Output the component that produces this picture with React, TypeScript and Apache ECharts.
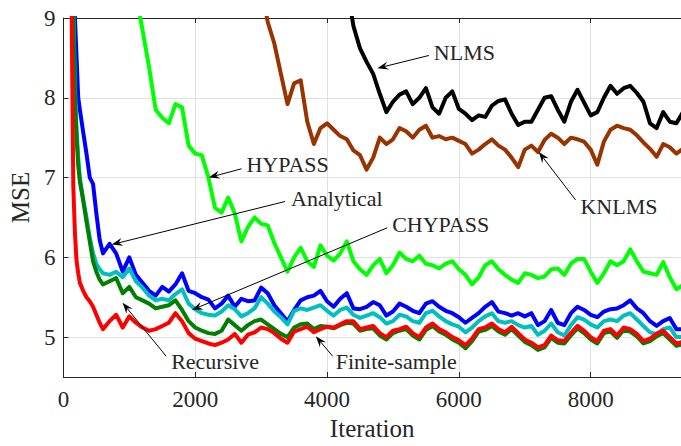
import { useEffect, useRef } from 'react';
import * as echarts from 'echarts';

const ITER = [
  100, 125, 150, 175, 200, 225, 250, 300, 350, 400, 450, 500, 550, 600,
  700, 800, 900, 1000, 1100, 1200, 1300, 1400, 1500, 1600,
  1700, 1800, 1900, 2000, 2100, 2200, 2300, 2400, 2500, 2600,
  2700, 2800, 2900, 3000, 3100, 3200, 3300, 3400, 3500, 3600,
  3700, 3800, 3900, 4000, 4100, 4200, 4300, 4400, 4500, 4600,
  4700, 4800, 4900, 5000, 5100, 5200, 5300, 5400, 5500, 5600,
  5700, 5800, 5900, 6000, 6100, 6200, 6300, 6400, 6500, 6600,
  6700, 6800, 6900, 7000, 7100, 7200, 7300, 7400, 7500, 7600,
  7700, 7800, 7900, 8000, 8100, 8200, 8300, 8400, 8500, 8600,
  8700, 8800, 8900, 9000, 9100, 9200, 9300, 9400,
];

const NLMS = [
  null, null, null, null, null, null, null, null, null, null, null, null, null, null,
  null, null, null, null, null, null, null, null, null, null,
  null, null, null, null, null, null, null, null, null, null,
  null, null, null, null, null, null, null, null, null, null,
  null, null, null, null, null, null, 9.4, 8.9, 8.62, 8.45,
  8.3, 8.05, 7.82, 7.95, 8.04, 8.08, 7.92, 8.0, 8.12, 7.88,
  7.8, 8.0, 8.08, 7.86, 7.8, 7.72, 7.78, 7.76, 7.9, 7.96,
  7.98, 7.8, 7.66, 7.7, 7.7, 7.85, 8.0, 8.02, 7.85, 7.7,
  7.95, 8.1, 7.94, 7.78, 7.82, 8.0, 8.15, 8.05, 8.12, 8.15,
  8.06, 7.95, 7.68, 7.62, 7.82, 7.7, 7.68, 7.82,
];

const KNLMS = [
  null, null, null, null, null, null, null, null, null, null, null, null, null, null,
  null, null, null, null, null, null, null, null, null, null,
  null, null, null, null, null, null, null, null, null, null,
  null, null, null, 9.4, 8.95, 8.68, 8.3, 7.92, 8.18, 8.22,
  7.7, 7.42, 7.62, 7.68, 7.6, 7.52, 7.48, 7.34, 7.28, 7.1,
  7.25, 7.5, 7.42, 7.48, 7.62, 7.58, 7.5, 7.6, 7.65, 7.5,
  7.52, 7.48, 7.5, 7.46, 7.42, 7.3, 7.35, 7.42, 7.48, 7.4,
  7.35, 7.25, 7.13, 7.35, 7.4, 7.32, 7.47, 7.55, 7.5, 7.42,
  7.5, 7.48, 7.45, 7.35, 7.16, 7.45, 7.6, 7.65, 7.62, 7.6,
  7.53, 7.44, 7.36, 7.26, 7.42, 7.38, 7.3, 7.36,
];

const HYPASS = [
  null, null, null, null, null, null, null, null, null, null, null, null, null, null,
  null, null, null, null, 9.3, 8.85, 8.38, 7.85, 7.75, 7.68,
  7.92, 7.88, 7.4, 7.3, 7.28, 7.0, 6.62, 6.56, 6.75, 6.55,
  6.2, 6.38, 6.5, 6.42, 6.4, 6.18, 6.0, 5.82, 6.0, 6.12,
  5.95, 5.88, 6.15, 6.02, 5.96, 6.05, 6.2, 5.95, 5.85, 5.78,
  5.9, 5.98, 5.8, 5.9, 6.06, 5.98, 5.95, 6.02, 5.92, 5.9,
  5.86, 5.92, 5.95, 5.85, 5.78, 5.66, 5.75, 5.9, 5.95, 5.85,
  5.78, 5.72, 5.68, 5.8, 5.78, 5.74, 5.76, 5.85, 5.86, 5.78,
  5.92, 5.98, 5.98, 5.82, 5.68, 5.8, 5.95, 5.9, 5.95, 6.1,
  5.95, 5.82, 5.8, 5.78, 5.94, 5.75, 5.6, 5.65,
];

const ANALYTICAL = [
  13, 11.5, 10, 9.0, 8.5, 8.0, 7.85, 7.57, 7.3, 7.0, 6.92, 6.55, 6.22, 6.05,
  6.17, 6.05, 5.82, 6.0, 5.78, 5.68, 5.58, 5.52, 5.63, 5.57,
  5.66, 5.8, 5.58, 5.55, 5.5, 5.47, 5.36, 5.42, 5.52, 5.38,
  5.48, 5.45, 5.46, 5.62, 5.55, 5.4, 5.3, 5.2, 5.34, 5.46,
  5.5, 5.52, 5.58, 5.45, 5.38, 5.48, 5.55, 5.36, 5.35, 5.38,
  5.44, 5.4, 5.27, 5.32, 5.42, 5.38, 5.33, 5.3, 5.42, 5.45,
  5.38, 5.33, 5.3, 5.25, 5.18, 5.24, 5.3, 5.38, 5.44, 5.32,
  5.3, 5.27, 5.3, 5.26, 5.3, 5.15, 5.2, 5.34, 5.18, 5.15,
  5.3, 5.38, 5.34, 5.28, 5.25, 5.32, 5.35, 5.36, 5.4, 5.46,
  5.36, 5.3, 5.2, 5.14, 5.2, 5.24, 5.1, 5.1,
];

const CHYPASS = [
  12, 10.8, 9.2, 8.1, 7.6, 7.25, 7.0, 6.72, 6.5, 6.25, 6.05, 5.92, 5.85, 5.8,
  5.78, 5.82, 5.75, 5.86, 5.7, 5.62, 5.52, 5.46, 5.48, 5.46,
  5.54, 5.6, 5.42, 5.35, 5.3, 5.28, 5.27, 5.32, 5.4, 5.35,
  5.26, 5.3, 5.36, 5.5, 5.42, 5.32, 5.25, 5.16, 5.33, 5.36,
  5.34, 5.37, 5.4, 5.33, 5.27, 5.34, 5.37, 5.28, 5.24, 5.27,
  5.3, 5.25, 5.17, 5.2, 5.28, 5.26, 5.2, 5.18, 5.3, 5.33,
  5.26, 5.2, 5.16, 5.13, 5.06, 5.12, 5.2, 5.26, 5.3, 5.2,
  5.18, 5.2, 5.15, 5.12, 5.14, 5.03, 5.08, 5.17, 5.06, 5.02,
  5.15, 5.25, 5.22, 5.16, 5.12, 5.2, 5.22, 5.2, 5.27, 5.3,
  5.22, 5.14, 5.06, 5.04, 5.1, 5.12, 5.0, 5.0,
];

const RECURSIVE = [
  12, 10.5, 9.0, 8.0, 7.5, 7.15, 6.95, 6.72, 6.45, 6.2, 5.95, 5.82, 5.72, 5.66,
  5.7, 5.74, 5.55, 5.63, 5.5, 5.46, 5.42, 5.36, 5.38, 5.4,
  5.46, 5.34, 5.2, 5.12, 5.08, 5.05, 5.04, 5.08, 5.22, 5.15,
  5.08, 5.15, 5.2, 5.22, 5.16, 5.1, 5.04, 5.0, 5.12, 5.16,
  5.17, 5.1, 5.14, 5.13, 5.11, 5.15, 5.18, 5.17, 5.08, 5.1,
  5.11, 5.02, 4.97, 5.05, 5.08, 5.1, 5.02, 4.97, 5.09, 5.14,
  5.07, 5.03, 4.97, 4.93, 4.86, 4.95, 5.07, 5.09, 5.14, 5.07,
  5.03, 5.1, 5.02, 4.94, 4.9, 4.84, 4.87, 4.99, 4.93, 4.92,
  5.02, 5.11, 5.05, 4.97, 4.92, 5.05, 5.07, 4.99, 5.09, 5.07,
  5.01, 4.92, 4.95, 5.01, 5.05, 4.97, 4.89, 4.91,
];

const FINITE = [
  11, 9.1, 6.9, 6.3, 5.95, 5.8, 5.68, 5.58, 5.5, 5.45, 5.38, 5.28, 5.18, 5.1,
  5.2, 5.28, 5.12, 5.26, 5.18, 5.12, 5.08, 5.1, 5.14, 5.18,
  5.3, 5.2, 5.05, 4.98, 4.95, 4.92, 4.9, 4.93, 4.97, 5.04,
  4.93, 5.03, 5.06, 5.12, 5.1, 5.05, 4.98, 4.93, 5.07, 5.1,
  5.13, 5.06, 5.1, 5.13, 5.12, 5.16, 5.2, 5.2, 5.1, 5.12,
  5.14, 5.05, 5.0, 5.08, 5.1, 5.13, 5.05, 5.0, 5.12, 5.17,
  5.1, 5.06, 5.0, 4.96, 4.9, 4.98, 5.1, 5.12, 5.17, 5.1,
  5.06, 5.13, 5.05, 4.97, 4.93, 4.87, 4.9, 5.02, 4.96, 4.95,
  5.05, 5.14, 5.08, 5.0, 4.95, 5.08, 5.1, 5.02, 5.12, 5.1,
  5.04, 4.95, 4.98, 5.04, 5.08, 5.0, 4.92, 4.94,
];

const SERIES_NAMES = ['NLMS', 'KNLMS', 'HYPASS', 'Analytical', 'CHYPASS', 'Recursive', 'Finite-sample'];
const SERIES_VALUES = [NLMS, KNLMS, HYPASS, ANALYTICAL, CHYPASS, RECURSIVE, FINITE];
const SERIES_COLORS = ['#000000', '#993300', '#00ff00', '#0000ff', '#00bfbf', '#008000', '#ff0000'];

const X_MIN = 0;
const X_MAX = 9370;
const X_INTERVAL = 2000;
const Y_MIN = 4.5;
const Y_MAX = 9;

// annotations: label anchor (left-middle), arrow start, arrow tip (data coords)
const ANN_LABELS = ['NLMS', 'KNLMS', 'HYPASS', 'Analytical', 'CHYPASS', 'Recursive', 'Finite-sample'];
const ANN_TEXT = [[5620, 8.57], [7845, 6.64], [2777, 7.16], [3454, 6.74], [4988, 6.41], [1635, 4.69], [4131, 4.69]];
const ANN_START = [[5545, 8.53], [7770, 6.72], [2702, 7.11], [3364, 6.70], [4912, 6.37], [1559, 4.76], [4086, 4.76]];
const ANN_TIP = [[4763, 8.37], [7213, 7.32], [2206, 7.0], [732, 6.16], [1950, 5.34], [898, 5.43], [3830, 5.01]];

const FONT = 'Liberation Serif, Times New Roman, serif';
const TEXT_COLOR = '#262626';

export default function App() {
  const ref = useRef<HTMLDivElement>(null);

  useEffect(() => {
    if (!ref.current) return;
    const chart = echarts.init(ref.current, undefined, { renderer: 'svg' });

    const series = SERIES_NAMES.map((name, si) => ({
      name,
      type: 'line',
      xAxisIndex: 0,
      yAxisIndex: 0,
      showSymbol: false,
      symbol: 'none',
      clip: true,
      lineStyle: { color: SERIES_COLORS[si], width: 4, join: 'round', cap: 'round' },
      itemStyle: { color: SERIES_COLORS[si] },
      data: ITER.map((x, i) => [x, SERIES_VALUES[si][i]]).filter((p) => p[1] !== null),
      z: 2 + si,
    }));

    const axisLineStyle = { color: TEXT_COLOR, width: 1 };

    chart.setOption({
      animation: false,
      backgroundColor: '#ffffff',
      grid: { left: 58, top: 18, right: 0, bottom: 65, containLabel: false },
      xAxis: [
        {
          type: 'value',
          min: X_MIN,
          max: X_MAX,
          interval: X_INTERVAL,
          position: 'bottom',
          name: 'Iteration',
          nameLocation: 'middle',
          nameGap: 39,
          nameTextStyle: { fontFamily: FONT, fontSize: 25, color: TEXT_COLOR },
          axisLine: { show: true, lineStyle: axisLineStyle },
          axisTick: { show: true, inside: true, length: 5, lineStyle: axisLineStyle },
          axisLabel: {
            fontFamily: FONT,
            fontSize: 23,
            color: TEXT_COLOR,
            margin: 11,
            showMaxLabel: false,
            formatter: (v: number) => (v % X_INTERVAL === 0 ? String(v) : ''),
          },
          splitLine: { show: true, lineStyle: { color: '#e0e0e0', width: 1 } },
        },
        {
          type: 'value',
          min: X_MIN,
          max: X_MAX,
          interval: X_INTERVAL,
          position: 'top',
          axisLine: { show: true, lineStyle: axisLineStyle },
          axisTick: { show: true, inside: true, length: 5, lineStyle: axisLineStyle },
          axisLabel: { show: false },
          splitLine: { show: false },
        },
      ],
      yAxis: [
        {
          type: 'value',
          min: Y_MIN,
          max: Y_MAX,
          splitNumber: 5,
          name: 'MSE',
          nameLocation: 'middle',
          nameGap: 30,
          nameTextStyle: { fontFamily: FONT, fontSize: 25, color: TEXT_COLOR },
          axisLine: { show: true, lineStyle: axisLineStyle },
          axisTick: { show: true, inside: true, length: 5, lineStyle: axisLineStyle },
          axisLabel: {
            fontFamily: FONT,
            fontSize: 23,
            color: TEXT_COLOR,
            margin: 8,
            formatter: (v: number) => (Number.isInteger(v) ? String(v) : ''),
          },
          splitLine: { show: true, lineStyle: { color: '#e0e0e0', width: 1 } },
        },
      ],
      series,
    });

    const graphics: any[] = [];
    ANN_LABELS.forEach((label, i) => {
      const t = chart.convertToPixel({ seriesIndex: 0 }, ANN_TEXT[i]) as number[];
      const s = chart.convertToPixel({ seriesIndex: 0 }, ANN_START[i]) as number[];
      const e = chart.convertToPixel({ seriesIndex: 0 }, ANN_TIP[i]) as number[];
      const dx = e[0] - s[0];
      const dy = e[1] - s[1];
      const len = Math.sqrt(dx * dx + dy * dy) || 1;
      const ux = dx / len;
      const uy = dy / len;
      const nx = -uy;
      const ny = ux;
      const L = 11;
      const W = 4;
      const notch = [e[0] - ux * L * 0.65, e[1] - uy * L * 0.65];
      graphics.push({
        type: 'line',
        silent: true,
        z: 100,
        shape: { x1: s[0], y1: s[1], x2: notch[0], y2: notch[1] },
        style: { stroke: '#000000', lineWidth: 1 },
      });
      graphics.push({
        type: 'polygon',
        silent: true,
        z: 100,
        shape: {
          points: [
            [e[0], e[1]],
            [e[0] - ux * L + nx * W, e[1] - uy * L + ny * W],
            notch,
            [e[0] - ux * L - nx * W, e[1] - uy * L - ny * W],
          ],
        },
        style: { fill: '#000000' },
      });
      graphics.push({
        type: 'text',
        silent: true,
        z: 100,
        x: t[0],
        y: t[1],
        style: {
          text: label,
          fontFamily: FONT,
          fontSize: 22,
          fill: TEXT_COLOR,
          align: 'left',
          textAlign: 'left',
          verticalAlign: 'middle',
          textVerticalAlign: 'middle',
        },
      });
    });
    chart.setOption({ graphic: graphics });

    return () => chart.dispose();
  }, []);

  return (
    <div
      ref={ref}
      style={{ position: 'fixed', left: 0, top: 0, width: 681, height: 446, background: '#fff' }}
    />
  );
}
